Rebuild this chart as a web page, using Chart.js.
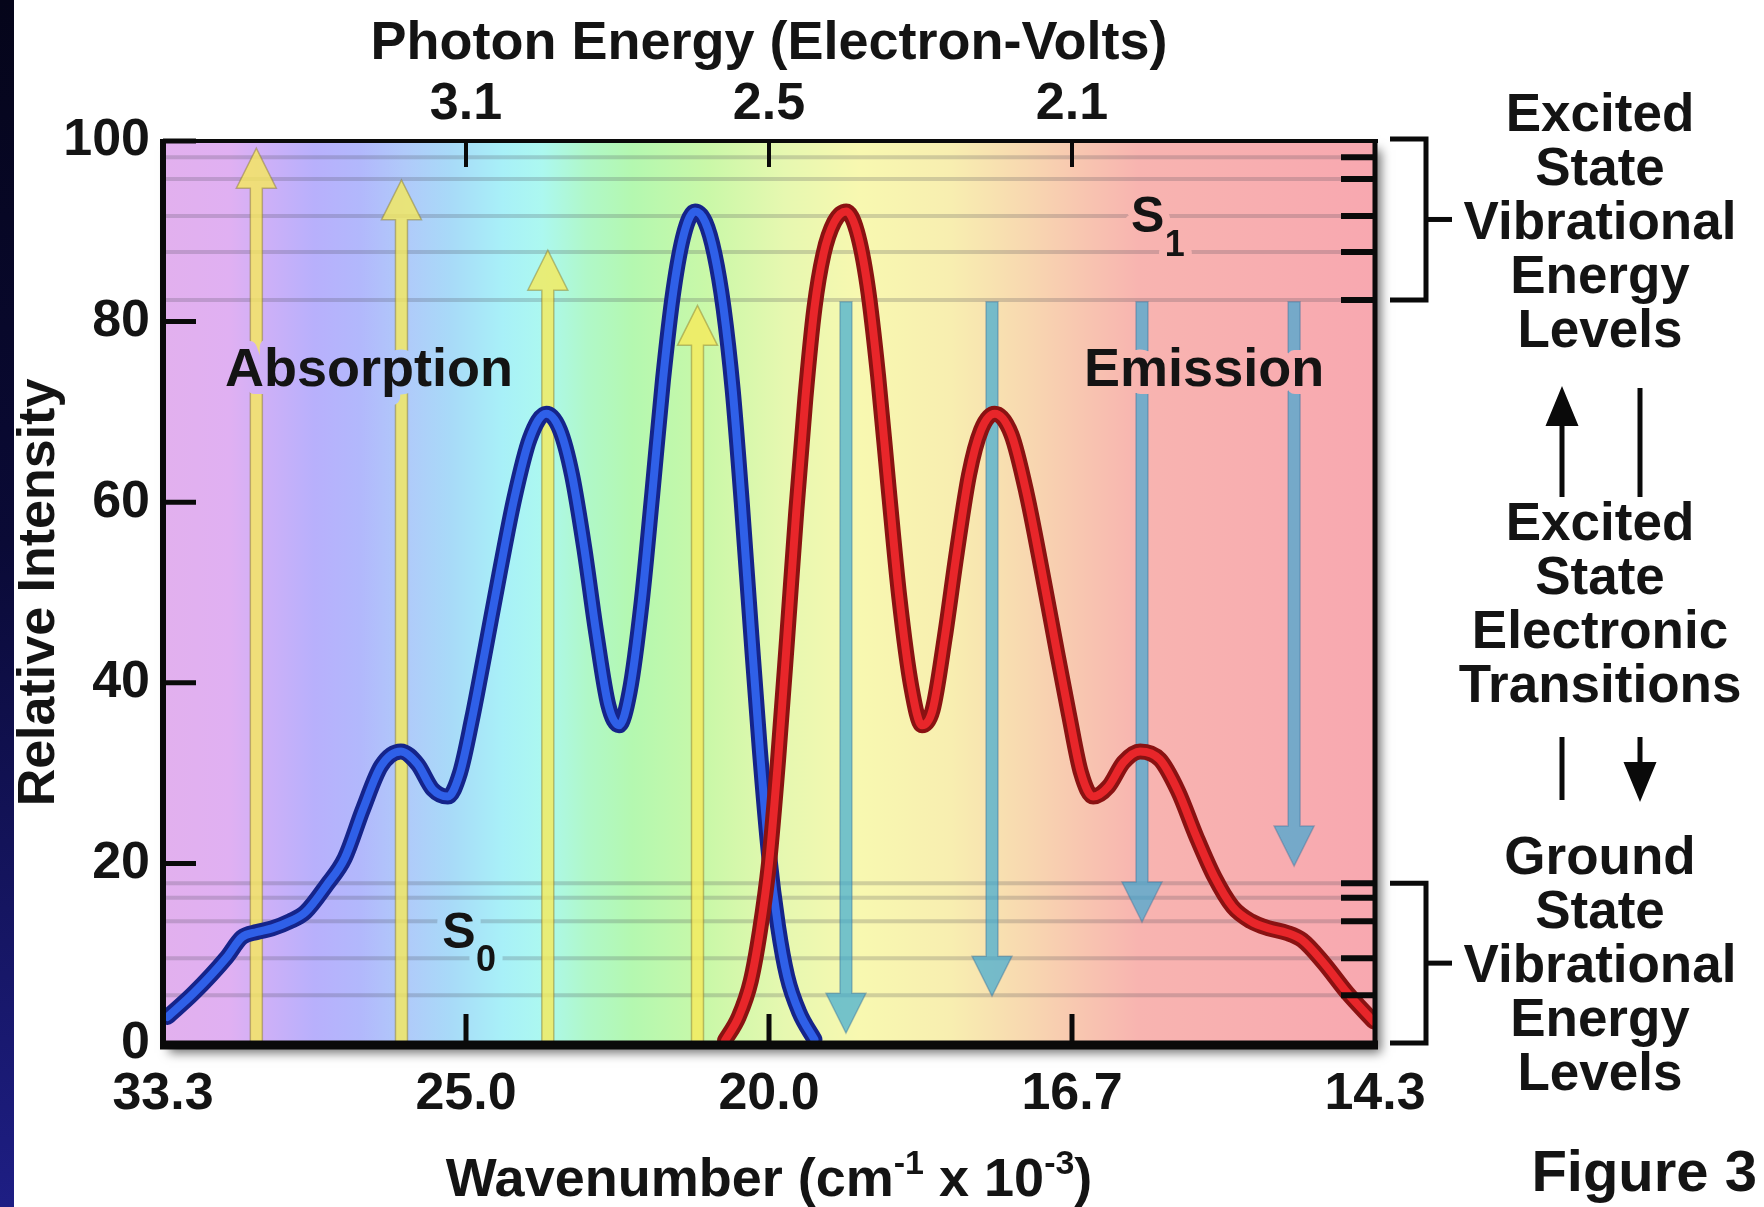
<!DOCTYPE html>
<html>
<head>
<meta charset="utf-8">
<title>Figure 3 - Absorption and Emission</title>
<script src="https://cdn.jsdelivr.net/npm/chart.js@4.4.2/dist/chart.umd.min.js"></script>
<style>
  html, body { margin: 0; padding: 0; background: #fff; }
  #wrap {
    position: relative; width: 1764px; height: 1207px; overflow: hidden;
    font-family: "Liberation Sans", Arial, sans-serif; font-weight: bold; color: #141414;
  }
  #strip {
    position: absolute; left: 0; top: 0; width: 14px; height: 1207px;
    background: linear-gradient(#05051a, #0a0a36 45%, #1e1e84);
  }
  canvas { position: absolute; left: 0; top: 0; }
  .note {
    position: absolute; left: 1400px; width: 400px; text-align: center;
    font-size: 53px; line-height: 54px;
  }
  #fig { position: absolute; right: 7px; top: 1142px; font-size: 58px; line-height: 58px; }
  #xtitle {
    position: absolute; left: 369px; width: 800px; top: 1150px; text-align: center;
    font-size: 54px; line-height: 54px;
  }
  #xtitle sup { font-size: 34px; line-height: 0; vertical-align: 22px; }
</style>
</head>
<body>
<div id="wrap">
  <div id="strip"></div>
  <canvas id="chart" width="1764" height="1207"></canvas>
  <div class="note" style="top:86px">Excited<br>State<br>Vibrational<br>Energy<br>Levels</div>
  <div class="note" style="top:495px">Excited<br>State<br>Electronic<br>Transitions</div>
  <div class="note" style="top:829px">Ground<br>State<br>Vibrational<br>Energy<br>Levels</div>
  <div id="fig">Figure 3</div>
  <div id="xtitle">Wavenumber (cm<sup>-1</sup> x 10<sup>-3</sup>)</div>
</div>

<script>
// ================================================================
//   DATA  (x = wavelength in nm, the plot is linear in wavelength;
//          bottom labels are wavenumber, top labels photon energy)
// ================================================================
const xTickNm         = [300, 400, 500, 600, 700];
const wavenumberTicks = ["33.3", "25.0", "20.0", "16.7", "14.3"];
const energyTickNm    = [400, 500, 600];
const energyTicks     = ["3.1", "2.5", "2.1"];
const yTicks          = [0, 20, 40, 60, 80, 100];

const absorptionNm = [301.5, 310, 321, 326, 331, 336, 342, 347, 354, 360, 366, 372, 378.5,
                      384, 389, 394, 398, 402, 406, 411, 416, 421, 426.5, 431, 435, 439,
                      443, 447, 450.5, 454, 458, 461.5, 465, 468.5, 472, 475.6, 479, 482,
                      485, 488, 491, 494, 497, 500, 503, 506, 510, 515];
const absorptionI  = [3.0, 5.6, 9.6, 11.8, 12.4, 12.8, 13.6, 14.6, 17.6, 20.6, 26.0, 30.8, 32.4,
                      31.0, 28.2, 27.4, 30.0, 36.0, 43.0, 52.0, 60.5, 67.0, 69.8, 68.0, 63.0, 55.0,
                      45.5, 37.5, 35.3, 39.0, 49.0, 61.0, 73.5, 83.5, 89.8, 92.2, 91.0, 87.5,
                      81.5, 72.5, 60.0, 46.0, 32.5, 21.0, 13.0, 7.5, 3.5, 0.5];

const emissionNm = [485.5, 490, 494, 497, 500, 503, 506, 509, 512, 515, 518, 521.5, 525.5,
                    529, 532.5, 536, 539.5, 543, 547, 550.5, 554, 558, 562, 566, 570, 574.5,
                    580, 585, 590, 595, 599, 603, 607, 612, 617, 622.5, 629, 635, 641, 647,
                    653, 659, 665, 671, 676, 683, 691, 699.5];
const emissionI  = [0.4, 3.0, 7.0, 12.5, 20.0, 31.5, 45.0, 59.0, 71.5, 81.5, 87.5, 91.0, 92.2,
                    90.0, 84.0, 74.0, 61.5, 49.5, 39.5, 35.3, 37.0, 45.0, 54.5, 63.0, 68.0, 69.8,
                    67.5, 61.0, 52.5, 43.5, 36.5, 30.0, 27.4, 28.5, 31.2, 32.4, 31.5, 28.0, 23.0,
                    18.5, 15.2, 13.6, 12.8, 12.3, 11.5, 9.0, 5.6, 2.5];

// vibrational energy levels (relative intensity units)
const s1Levels = [98.2, 95.8, 91.7, 87.7, 82.4];
const s0Levels = [17.8, 16.2, 13.6, 9.5, 5.4];

// transition arrows
const absArrowNm   = [330.8, 378.7, 427.0, 476.4];
const absArrowTop  = [99.2, 95.7, 87.9, 81.8];
const emArrowNm    = [525.4, 573.6, 623.1, 673.3];
const emArrowEnd   = [1.2, 5.3, 13.5, 19.7];
const emArrowStart = 82.2;

// ================================================================
//   STYLE
// ================================================================
const FONT = '"Liberation Sans", Arial, sans-serif';
const INK  = "#141414";
const SPECTRUM = [
  [300, "#e2b0ee"], [322, "#e0b0f2"], [335, "#ccb0f8"], [350, "#b8b0fc"], [365, "#b2b8fc"],
  [380, "#b0cafa"], [395, "#a8daf8"], [412, "#a8f0f8"], [425, "#acf8f0"], [440, "#b0f8c8"],
  [455, "#b4f8b0"], [480, "#caf8a8"], [505, "#e6f8b0"], [530, "#f8f8b0"], [560, "#f8eeb0"],
  [585, "#f8d8b0"], [605, "#f8c4b0"], [622, "#f8b4b0"], [700, "#f8a8b0"]
];

const pts = (xs, ys) => xs.map((x, i) => ({ x, y: ys[i] }));

function spectrumGradient(chart) {
  const { ctx, chartArea: a, scales: { x } } = chart;
  const g = ctx.createLinearGradient(a.left, 0, a.right, 0);
  SPECTRUM.forEach(([nm, c]) => g.addColorStop((x.getPixelForValue(nm) - a.left) / a.width, c));
  return g;
}

function seg(ctx, x0, y0, x1, y1) {
  ctx.beginPath(); ctx.moveTo(x0, y0); ctx.lineTo(x1, y1); ctx.stroke();
}

function arrow(ctx, x, y0, y1, shaft, headW, headL) {
  const dir = y1 < y0 ? -1 : 1;
  const hb = y1 - dir * headL;
  ctx.beginPath();
  ctx.moveTo(x - shaft / 2, y0);
  ctx.lineTo(x - shaft / 2, hb);
  ctx.lineTo(x - headW / 2, hb);
  ctx.lineTo(x, y1);
  ctx.lineTo(x + headW / 2, hb);
  ctx.lineTo(x + shaft / 2, hb);
  ctx.lineTo(x + shaft / 2, y0);
  ctx.closePath();
}

function haloText(ctx, txt, px, py, size, bg) {
  ctx.font = `bold ${size}px ${FONT}`;
  ctx.textAlign = "center";
  ctx.textBaseline = "middle";
  ctx.lineJoin = "round";
  ctx.lineWidth = 16;
  ctx.strokeStyle = bg;
  ctx.strokeText(txt, px, py);
  ctx.fillStyle = INK;
  ctx.fillText(txt, px, py);
}

// ================================================================
//   FIGURE PLUGIN  (background, levels, arrows, frame, labels)
// ================================================================
const figurePlugin = {
  id: "figure",
  beforeDraw(chart) {
    const { ctx, chartArea: a } = chart;
    ctx.save();
    ctx.shadowColor = "rgba(0,0,0,0.55)";
    ctx.shadowBlur = 10;
    ctx.shadowOffsetX = 6;
    ctx.shadowOffsetY = 9;
    ctx.fillStyle = spectrumGradient(chart);
    ctx.fillRect(a.left, a.top, a.width, a.height);
    ctx.restore();
  },
  beforeDatasetsDraw(chart) {
    const { ctx, chartArea: a, scales: { x, y } } = chart;
    ctx.save();
    // energy level lines
    ctx.strokeStyle = "rgba(70,70,80,0.22)";
    ctx.lineWidth = 4;
    [...s1Levels, ...s0Levels].forEach(v => {
      const py = y.getPixelForValue(v);
      seg(ctx, a.left, py, a.right, py);
    });
    // absorption arrows (yellow, upward)
    ctx.lineWidth = 1.5;
    absArrowNm.forEach((nm, i) => {
      arrow(ctx, x.getPixelForValue(nm), y.getPixelForValue(0), y.getPixelForValue(absArrowTop[i]), 12, 40, 40);
      ctx.fillStyle = "rgba(246,234,90,0.8)";
      ctx.fill();
      ctx.strokeStyle = "rgba(130,115,40,0.45)";
      ctx.stroke();
    });
    // emission arrows (blue, downward)
    emArrowNm.forEach((nm, i) => {
      arrow(ctx, x.getPixelForValue(nm), y.getPixelForValue(emArrowStart), y.getPixelForValue(emArrowEnd[i]), 12, 40, 40);
      ctx.fillStyle = "rgba(55,168,212,0.68)";
      ctx.fill();
      ctx.strokeStyle = "rgba(60,110,150,0.4)";
      ctx.stroke();
    });
    ctx.restore();
  },
  afterDatasetsDraw(chart) {
    const { ctx, chartArea: a, scales: { x, y } } = chart;
    const bg = spectrumGradient(chart);
    ctx.save();
    ctx.strokeStyle = "#0a0a0a";
    ctx.lineCap = "butt";

    // frame
    ctx.lineWidth = 4; seg(ctx, a.left - 3, a.top, a.right + 3, a.top);
    ctx.lineWidth = 6; seg(ctx, a.left, a.top - 2, a.left, a.bottom + 4);
    ctx.lineWidth = 5; seg(ctx, a.right, a.top - 2, a.right, a.bottom + 4);
    ctx.lineWidth = 9; seg(ctx, a.left - 3, a.bottom + 1, a.right + 3, a.bottom + 1);

    // inward ticks
    ctx.lineWidth = 5;
    yTicks.forEach(v => { const py = y.getPixelForValue(v); seg(ctx, a.left, py, a.left + 33, py); });
    xTickNm.slice(1, -1).forEach(v => { const px = x.getPixelForValue(v); seg(ctx, px, a.bottom, px, a.bottom - 30); });
    ctx.lineWidth = 4;
    energyTickNm.forEach(v => { const px = x.getPixelForValue(v); seg(ctx, px, a.top, px, a.top + 26); });
    ctx.lineWidth = 6;
    [...s1Levels, ...s0Levels].forEach(v => { const py = y.getPixelForValue(v); seg(ctx, a.right - 34, py, a.right, py); });

    // brackets for the two level groups
    ctx.lineWidth = 5;
    const bracket = (t, b) => {
      const bx = a.right + 51;
      ctx.beginPath();
      ctx.moveTo(a.right + 15, t); ctx.lineTo(bx, t); ctx.lineTo(bx, b); ctx.lineTo(a.right + 15, b);
      ctx.stroke();
      const m = (t + b) / 2;
      seg(ctx, bx, m, bx + 26, m);
    };
    bracket(y.getPixelForValue(100) - 2, y.getPixelForValue(s1Levels[s1Levels.length - 1]));
    bracket(y.getPixelForValue(s0Levels[0]), y.getPixelForValue(0) - 1);

    // transition arrows beside the notes
    ctx.fillStyle = "#0a0a0a";
    const ax = a.right + 187, lx = a.right + 265;
    arrow(ctx, ax, 497, 386, 5, 33, 40); ctx.fill();
    seg(ctx, lx, 388, lx, 497);
    seg(ctx, ax, 737, ax, 800);
    arrow(ctx, lx, 737, 802, 5, 33, 40); ctx.fill();

    // in-plot labels
    haloText(ctx, "Absorption", x.getPixelForValue(368), y.getPixelForValue(74.5), 54, bg);
    haloText(ctx, "Emission", x.getPixelForValue(643.6), y.getPixelForValue(74.5), 54, bg);
    const sLabel = (nm, v, sub) => {
      const px = x.getPixelForValue(nm), py = y.getPixelForValue(v);
      haloText(ctx, "S", px, py, 50, bg);
      haloText(ctx, sub, px + 27, py + 27, 36, bg);
    };
    sLabel(625, 91.4, "1");
    sLabel(397.7, 12.2, "0");
    ctx.restore();
  }
};

// ================================================================
//   CHART
// ================================================================
const tickFont = { family: FONT, weight: "bold", size: 52 };
const lineBase = {
  pointRadius: 0, fill: false, tension: 0.4, cubicInterpolationMode: "monotone",
  borderJoinStyle: "round", borderCapStyle: "round"
};

new Chart(document.getElementById("chart"), {
  type: "line",
  data: {
    datasets: [
      { ...lineBase, label: "Emission",   data: pts(emissionNm, emissionI),     borderColor: "#e8262a", borderWidth: 8,  order: 0 },
      { ...lineBase, label: "Emission edge", data: pts(emissionNm, emissionI),  borderColor: "#8a1212", borderWidth: 16, order: 1 },
      { ...lineBase, label: "Absorption", data: pts(absorptionNm, absorptionI), borderColor: "#2f60e8", borderWidth: 8,  order: 2 },
      { ...lineBase, label: "Absorption edge", data: pts(absorptionNm, absorptionI), borderColor: "#15248a", borderWidth: 16, order: 3 }
    ]
  },
  options: {
    responsive: false,
    devicePixelRatio: 1,
    animation: false,
    layout: { padding: { left: 0, top: 0, bottom: 0, right: 389 } },
    plugins: { legend: { display: false }, tooltip: { enabled: false } },
    scales: {
      x: {
        type: "linear", position: "bottom", min: 300, max: 700,
        afterBuildTicks: s => { s.ticks = xTickNm.map(v => ({ value: v })); },
        ticks: {
          callback: v => wavenumberTicks[xTickNm.indexOf(v)],
          font: tickFont, color: INK, padding: 19, autoSkip: false, maxRotation: 0
        },
        grid: { display: false, drawTicks: false },
        border: { display: false },
        afterFit: s => { s.height = 163; }
      },
      x2: {
        type: "linear", position: "top", min: 300, max: 700,
        afterBuildTicks: s => { s.ticks = energyTickNm.map(v => ({ value: v })); },
        ticks: {
          callback: v => energyTicks[energyTickNm.indexOf(v)],
          font: tickFont, color: INK, padding: 5, autoSkip: false, maxRotation: 0
        },
        title: {
          display: true, text: "Photon Energy (Electron-Volts)", color: INK,
          font: { family: FONT, weight: "bold", size: 54 }, padding: { top: 12, bottom: 0 }
        },
        grid: { display: false, drawTicks: false },
        border: { display: false },
        afterFit: s => { s.height = 141; }
      },
      y: {
        min: 0, max: 100,
        afterBuildTicks: s => { s.ticks = yTicks.map(v => ({ value: v })); },
        ticks: { font: tickFont, color: INK, padding: 13 },
        title: {
          display: true, text: "Relative Intensity", color: INK,
          font: { family: FONT, weight: "bold", size: 52 }, padding: { top: 8, bottom: 0 }
        },
        grid: { display: false, drawTicks: false },
        border: { display: false },
        afterFit: s => { s.width = 163; }
      }
    }
  },
  plugins: [figurePlugin]
});
</script>
</body>
</html>
